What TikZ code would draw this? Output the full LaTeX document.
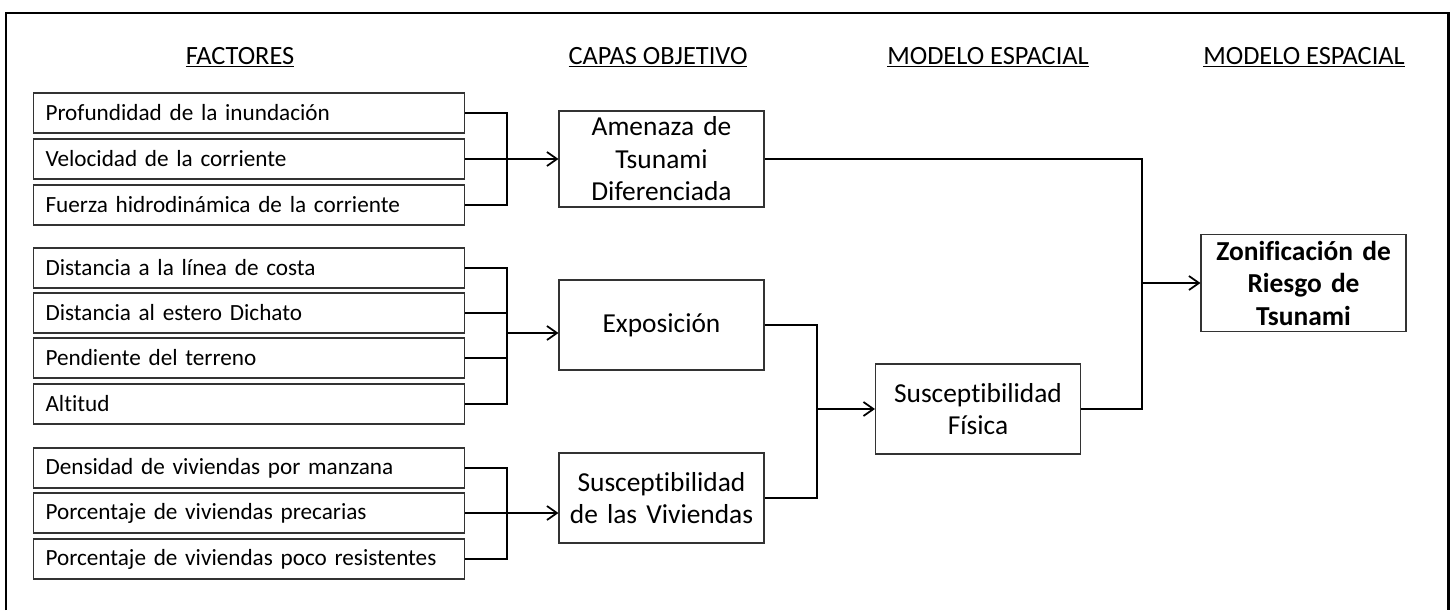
\documentclass[tikz,border=0pt]{standalone}
\usepackage{fontspec}
\setmainfont{Carlito}[Ligatures=NoCommon]
\usetikzlibrary{positioning,arrows.meta}

\begin{document}
\begin{tikzpicture}[
        factorbox/.style={draw=black!80, line width=0.6pt, anchor=west, minimum height=0.8cm,
            text width=8.14cm, inner xsep=0.24cm, inner ysep=0pt, align=left,
            font=\fontsize{13.2}{15}\selectfont},
        layerbox/.style={draw=black!80, line width=0.6pt, minimum width=4.1cm, minimum height=1.8cm,
            text width=3.9cm, inner xsep=0.1cm, align=center,
            font=\fontsize{15.6}{18.5}\selectfont},
        heading/.style={anchor=base, font=\fontsize{15}{17}\selectfont},
        link/.style={line width=1.1pt},
        arrowlink/.style={link, -{Straight Barb[length=2mm,width=2.8mm,line width=1pt]}}
    ]
        \useasboundingbox (0,0) rectangle (29.1,-12.2);
        % frame
        \draw[line width=1.7pt] (0.12,-12.2) |- (28.96,-0.26) -- (28.96,-12.2);

        % headings
        \node[heading] (hfact) at (4.8,-1.28) {\underline{FACTORES}};
        \node[heading] (hcapa) at (13.16,-1.28) {\underline{CAPAS OBJETIVO}};
        \node[heading] (hmod1) at (19.76,-1.28) {\underline{MODELO ESPACIAL}};
        \node[heading] (hmod2) at (26.08,-1.28) {\underline{MODELO ESPACIAL}};

        % factores
        \node[factorbox] (prof) at (0.66,-2.26) {Profundidad de la inundación};
        \node[factorbox] (velo) at (0.66,-3.18) {Velocidad de la corriente};
        \node[factorbox] (fuer) at (0.66,-4.10) {Fuerza hidrodinámica de la corriente};

        \node[factorbox] (dcos) at (0.66,-5.36) {Distancia a la línea de costa};
        \node[factorbox] (dest) at (0.66,-6.26) {Distancia al estero Dichato};
        \node[factorbox] (pend) at (0.66,-7.16) {Pendiente del terreno};
        \node[factorbox] (alti) at (0.66,-8.08) {Altitud};

        \node[factorbox] (dens) at (0.66,-9.36) {Densidad de viviendas por manzana};
        \node[factorbox] (prec) at (0.66,-10.26) {Porcentaje de viviendas precarias};
        \node[factorbox] (resi) at (0.66,-11.18) {Porcentaje de viviendas poco resistentes};

        % capas objetivo
        \node[layerbox] (amen) at (13.23,-3.18) {Amenaza de\\ Tsunami\\ Diferenciada};
        \node[layerbox] (expo) at (13.23,-6.5) {Exposición};
        \node[layerbox] (vivi) at (13.23,-9.96) {Susceptibilidad\\ de las Viviendas};

        % modelo espacial
        \node[layerbox] (fisi) at (19.56,-8.18) {Susceptibilidad\\ Física};
        \node[layerbox, font=\fontsize{15.6}{18.5}\selectfont\bfseries] (zoni) at (26.07,-5.66)
            {Zonificación de\\ Riesgo de\\ Tsunami};

        % junctions
        \coordinate (b1) at (10.14,-3.18);
        \coordinate (b2) at (10.14,-6.66);
        \coordinate (b3) at (10.14,-10.26);
        \coordinate (j2) at (16.34,-8.18);
        \coordinate (j3) at (22.84,-5.66);

        % brackets
        \draw[link] (prof.east) -- (prof.east -| b1) -- (fuer.east -| b1) -- (fuer.east);
        \draw[link] (velo.east) -- (b1);
        \draw[arrowlink] (b1) -- (amen);

        \draw[link] (dcos.east) -- (dcos.east -| b2) -- (alti.east -| b2) -- (alti.east);
        \draw[link] (dest.east) -- (dest.east -| b2);
        \draw[link] (pend.east) -- (pend.east -| b2);
        \draw[arrowlink] (b2) -- (b2 -| expo.west);

        \draw[link] (dens.east) -- (dens.east -| b3) -- (resi.east -| b3) -- (resi.east);
        \draw[link] (prec.east) -- (b3);
        \draw[arrowlink] (b3) -- (b3 -| vivi.west);

        \draw[link] (expo.east) -- (expo.east -| j2) -- (vivi.east -| j2) -- (vivi.east);
        \draw[arrowlink] (j2) -- (fisi);

        \draw[link] (amen.east) -- (amen.east -| j3) -- (fisi.east -| j3) -- (fisi.east);
        \draw[arrowlink] (j3) -- (zoni);
    \end{tikzpicture}
\end{document}
